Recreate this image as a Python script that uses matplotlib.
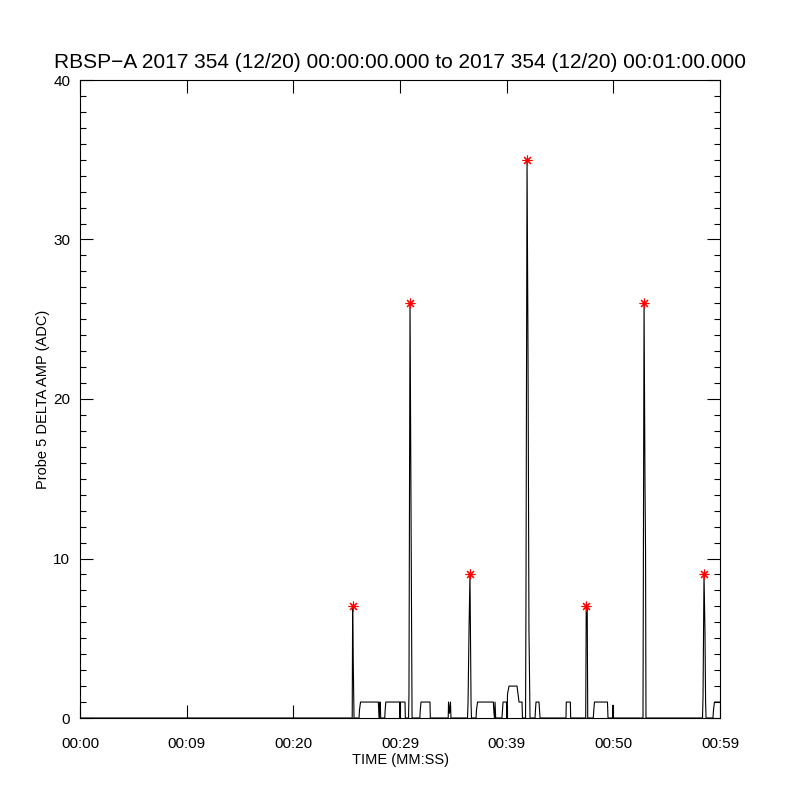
import numpy as np
import matplotlib.pyplot as plt
from matplotlib.ticker import MultipleLocator

plt.rcParams['font.family'] = ['Liberation Sans', 'DejaVu Sans']

# time in seconds after 00:00:00, amplitude in ADC
t = [0.0, 25.52, 25.56, 25.62, 25.69, 26.16, 26.20, 26.30, 27.97, 28.01,
     28.06, 28.11, 28.15, 28.19, 28.57, 28.61, 28.67, 29.97, 30.00, 30.03,
     30.47, 30.50, 30.80, 30.84, 30.94, 31.03, 31.13, 31.86, 31.90, 31.97,
     32.81, 32.84, 34.52, 34.55, 34.64, 34.73, 34.78, 36.33, 36.38, 36.47,
     36.56, 36.66, 36.70, 37.13, 37.17, 37.27, 38.75, 38.81, 38.86, 38.91,
     38.97, 39.56, 39.66, 39.98, 40.03, 40.08, 40.22, 40.97, 41.16, 41.44,
     41.48, 41.77, 41.81, 41.91, 42.00, 42.09, 42.19, 42.66, 42.70, 42.75,
     43.03, 43.13, 45.56, 45.59, 45.97, 46.00, 47.41, 47.46, 47.55, 47.60,
     48.12, 48.17, 48.23, 49.45, 49.50, 49.92, 49.97, 50.00, 52.78, 52.88,
     52.97, 53.02, 53.06, 58.36, 58.41, 58.50, 58.59, 58.65, 58.69, 59.34,
     59.39, 59.48, 60.0]
amp = [0, 0, 7, 3.4, 0, 0, 0.5, 1, 1, 0.4,
       0, 1, 1, 0, 0, 0.5, 1, 1, 0, 1,
       1, 0, 0, 1.4, 26, 13.5, 0, 0, 0.5, 1,
       1, 0, 0, 1, 0.3, 1, 0, 0, 1, 5.5,
       9, 1, 0, 0, 0.5, 1, 1, 0.3, 0, 1,
       0, 0, 1, 1, 0, 1.5, 2, 2, 1, 1,
       0, 0, 7.5, 35, 23, 5.5, 0, 0, 0.5, 1,
       1, 0, 0, 1, 1, 0, 0, 7, 7, 0,
       0, 0.5, 1, 1, 0, 0, 0.8, 0, 0, 26,
       14.5, 10.5, 0, 0, 1.4, 9, 5.5, 1, 0, 0,
       0.5, 1, 1]

peak_t = [25.56, 30.94, 36.56, 41.91, 47.46, 52.88, 58.50]
peak_amp = [7, 26, 9, 35, 7, 26, 9]

xticks = [0, 10, 20, 30, 40, 50, 60]
xticklabels = ['00:00', '00:09', '00:20', '00:29', '00:39', '00:50', '00:59']

fig = plt.figure(figsize=(8, 8), dpi=100)
ax = fig.add_axes([0.1, 0.1025, 0.8, 0.7975])

ax.plot(t, amp, color='black', lw=0.8)
ax.plot(peak_t, peak_amp, ls='none', marker=(8, 2, 0), ms=7, mew=0.8, color='red')

ax.set_xlim(0, 60)
ax.set_ylim(0, 40)
ax.set_xticks(xticks)
ax.set_xticklabels(xticklabels)
ax.yaxis.set_major_locator(MultipleLocator(10))
ax.yaxis.set_minor_locator(MultipleLocator(1))

ax.tick_params(axis='both', which='major', direction='in', length=9.5, width=0.8,
               labelsize=11, top=True, right=True)
ax.tick_params(axis='y', which='minor', direction='in', length=4.5, width=0.8,
               right=True)
ax.tick_params(axis='x', pad=14)
ax.tick_params(axis='y', pad=7)
for s in ax.spines.values():
    s.set_linewidth(0.8)

ax.set_title('RBSP\u2212A 2017 354 (12/20) 00:00:00.000 to 2017 354 (12/20) 00:01:00.000',
             fontsize=15, pad=9)
ax.set_xlabel('TIME (MM:SS)', fontsize=10.5, labelpad=1)
ax.set_ylabel('Probe 5 DELTA AMP (ADC)', fontsize=10.5, labelpad=2)

fig.savefig('out.png', dpi=100)
